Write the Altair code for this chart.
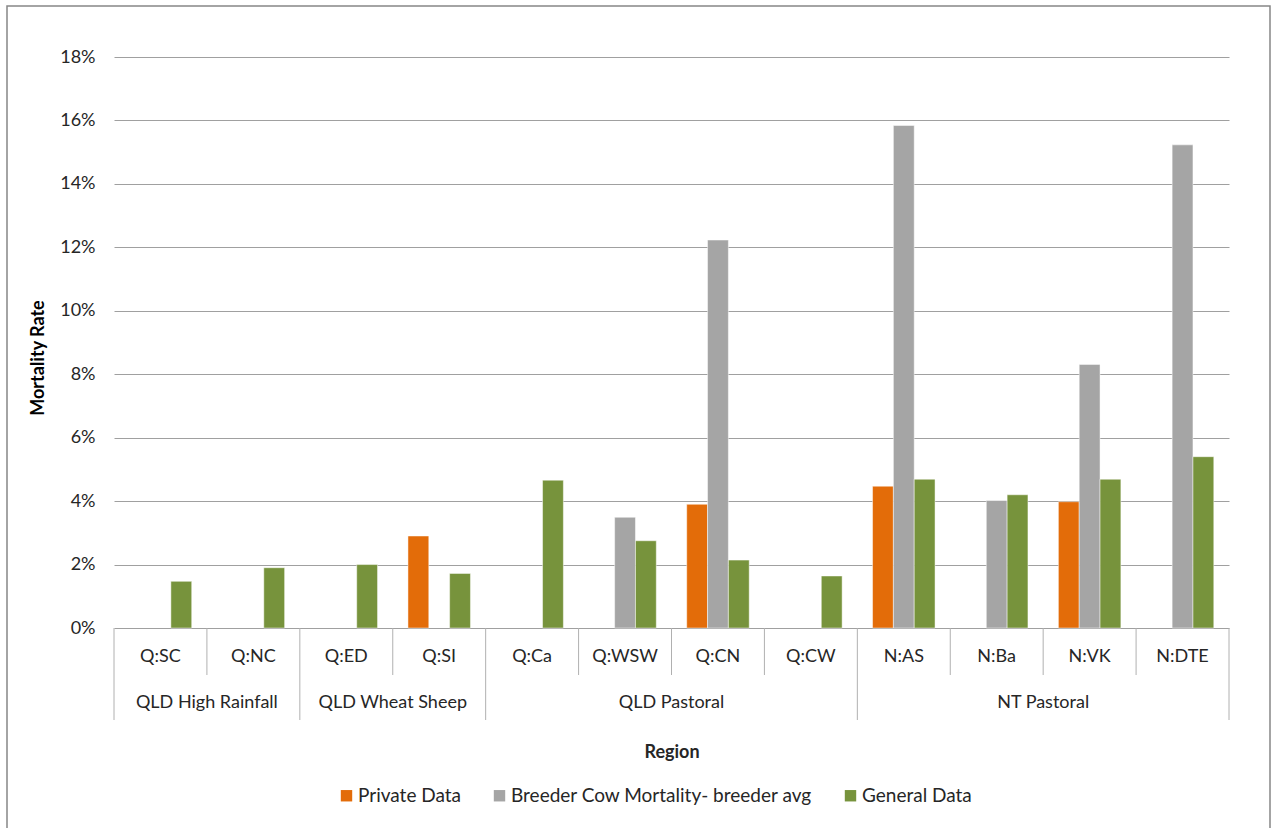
import altair as alt
import pandas as pd

# Regions (x categories) and the group each belongs to
categories = ["Q:SC", "Q:NC", "Q:ED", "Q:SI", "Q:Ca", "Q:WSW", "Q:CN", "Q:CW",
              "N:AS", "N:Ba", "N:VK", "N:DTE"]
groups = ["QLD High Rainfall", "QLD High Rainfall",
          "QLD Wheat Sheep", "QLD Wheat Sheep",
          "QLD Pastoral", "QLD Pastoral", "QLD Pastoral", "QLD Pastoral",
          "NT Pastoral", "NT Pastoral", "NT Pastoral", "NT Pastoral"]

# Mortality rates per series (None = no data for that region)
private_data = [None, None, None, 0.029, None, None, 0.039, None, 0.0447, None, 0.0398, None]
breeder_avg = [None, None, None, None, None, 0.0349, 0.1223, None, 0.1584, 0.0402, 0.0831, 0.1523]
general_data = [0.0147, 0.0190, 0.0200, 0.0172, 0.0466, 0.0275, 0.0214, 0.0164,
                0.0469, 0.0420, 0.0469, 0.0540]

series_names = ["Private Data", "Breeder Cow Mortality- breeder avg", "General Data"]
series_colors = ["#E36C09", "#A5A5A5", "#77933C"]
y_ticks = [0, 0.02, 0.04, 0.06, 0.08, 0.10, 0.12, 0.14, 0.16, 0.18]

FONT = "Lato"
TEXT = "#262626"
W, H = 1115, 571          # plot area
ROW1, ROW2 = 47, 92       # depth of the two category-table rows below the axis

rows = []
for name, vals in zip(series_names, [private_data, breeder_avg, general_data]):
    for cat, v in zip(categories, vals):
        if v is not None:
            rows.append({"Region": cat, "Series": name, "Rate": v})
bars_df = pd.DataFrame(rows)

x_scale = alt.Scale(domain=categories, paddingInner=0, paddingOuter=0)

bars = alt.Chart(bars_df).mark_bar(
    stroke="white", strokeWidth=0.8, strokeOpacity=0.6
).encode(
    x=alt.X("Region:N", scale=x_scale, sort=categories,
            axis=alt.Axis(labels=False, ticks=False, domain=False, grid=False,
                          title="Region", titleFont=FONT, titleFontSize=18,
                          titleFontWeight="bold", titleColor=TEXT, titlePadding=115)),
    xOffset=alt.XOffset("Series:N",
                        scale=alt.Scale(domain=series_names, paddingInner=0, paddingOuter=0.73)),
    y=alt.Y("Rate:Q",
            scale=alt.Scale(domain=[0, 0.18], nice=False),
            axis=alt.Axis(values=y_ticks, format=".0%", grid=True, gridColor="#A0A0A0",
                          gridWidth=1, ticks=False, domain=False,
                          labelFont=FONT, labelFontSize=18, labelColor=TEXT, labelPadding=19,
                          title="Mortality Rate", titleFont=FONT, titleFontSize=18,
                          titleFontWeight="bold", titleColor="#000000",
                          titleAngle=270, titleX=-76, titleY=H / 2 + 15,
                          titleAlign="center", titleBaseline="middle")),
    color=alt.Color("Series:N",
                    scale=alt.Scale(domain=series_names, range=series_colors),
                    legend=alt.Legend(title=None, orient="none", direction="horizontal",
                                      legendX=223, legendY=729, symbolType="square",
                                      symbolSize=130, symbolStrokeWidth=0,
                                      labelFont=FONT, labelFontSize=19, labelColor=TEXT,
                                      labelLimit=600, labelOffset=2, columnPadding=28)),
)

# Category table below the axis: separators and labels
cat_df = pd.DataFrame({"Region": categories, "Group": groups})
cat_df["first"] = cat_df["Group"] != cat_df["Group"].shift(1)

inner_sep = alt.Chart(cat_df[~cat_df["first"]]).mark_rule(color="#B0B0B0").encode(
    x=alt.X("Region:N", scale=x_scale, sort=categories, bandPosition=0),
    y=alt.value(H), y2=alt.value(H + ROW1),
)
group_sep = alt.Chart(cat_df[cat_df["first"]]).mark_rule(color="#B0B0B0").encode(
    x=alt.X("Region:N", scale=x_scale, sort=categories, bandPosition=0),
    y=alt.value(H), y2=alt.value(H + ROW2),
)
end_sep = alt.Chart(cat_df.tail(1)).mark_rule(color="#B0B0B0").encode(
    x=alt.X("Region:N", scale=x_scale, sort=categories, bandPosition=1),
    y=alt.value(H), y2=alt.value(H + ROW2),
)
cat_labels = alt.Chart(cat_df).mark_text(
    font=FONT, fontSize=18, color=TEXT, baseline="middle"
).encode(
    x=alt.X("Region:N", scale=x_scale, sort=categories),
    y=alt.value(H + 29),
    text="Region:N",
)

# Group labels sit at the midpoint of each group's span
grp_rows = []
for g in dict.fromkeys(groups):
    idx = [i for i, gg in enumerate(groups) if gg == g]
    grp_rows.append({"Group": g, "Anchor": categories[idx[0] + len(idx) // 2]})
grp_df = pd.DataFrame(grp_rows)
grp_labels = alt.Chart(grp_df).mark_text(
    font=FONT, fontSize=18, color=TEXT, baseline="middle"
).encode(
    x=alt.X("Anchor:N", scale=x_scale, sort=categories, bandPosition=0),
    y=alt.value(H + 75),
    text="Group:N",
)

# Outer chart frame
frame = alt.Chart(pd.DataFrame({"k": [0]})).mark_rect(
    filled=False, stroke="#878787", strokeWidth=1.5
).encode(
    x=alt.value(-107), x2=alt.value(1156), y=alt.value(-51), y2=alt.value(790),
)

chart = alt.layer(
    frame, bars, inner_sep, group_sep, end_sep, cat_labels, grp_labels
).properties(
    width=W, height=H,
    autosize=alt.AutoSizeParams(type="none"),
    padding={"left": 114, "top": 57, "right": 43, "bottom": 200},
    background="white",
).configure_view(stroke=None)

chart.save("out.html", embed_options={"renderer": "svg", "actions": False})
